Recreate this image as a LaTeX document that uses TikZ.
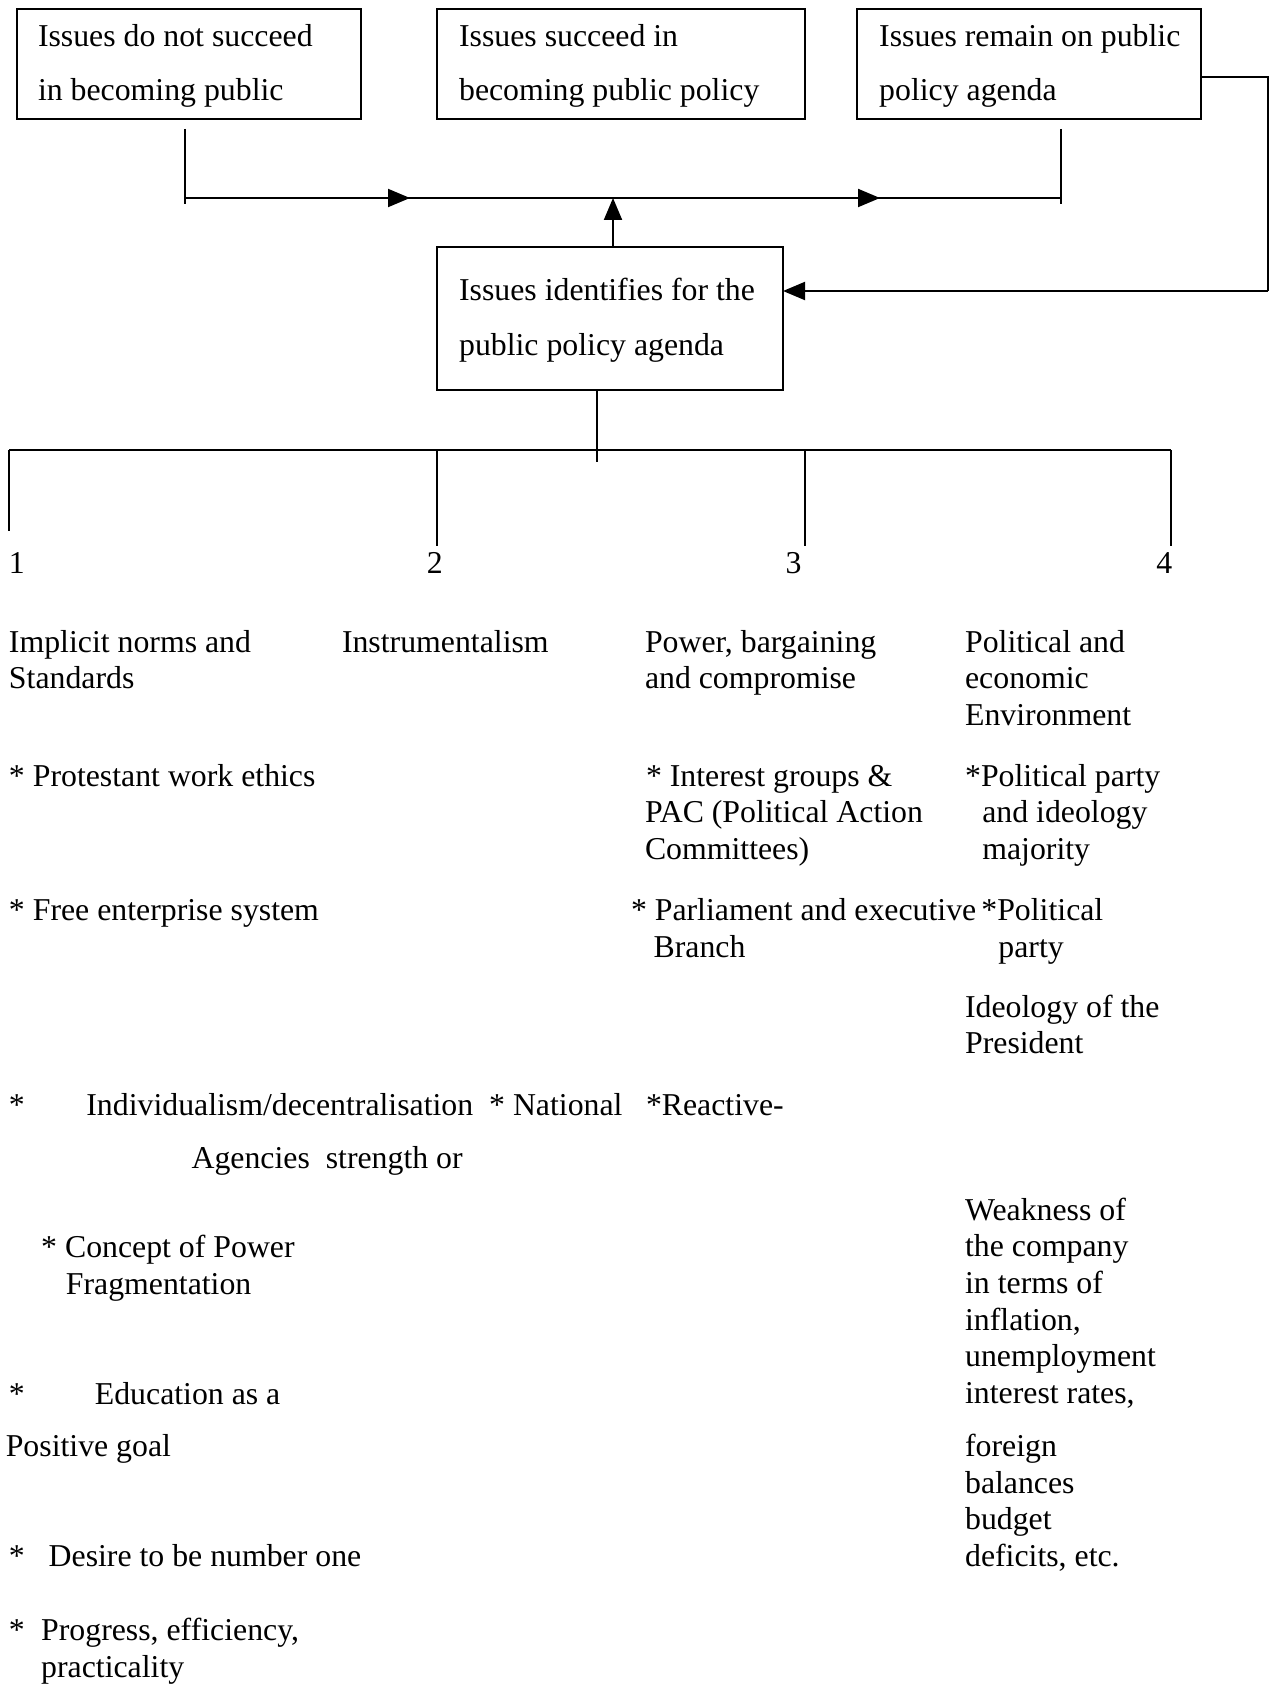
\documentclass[tikz,border=0pt]{standalone}
\usepackage{fontspec}
\setmainfont{Liberation Serif}
\usetikzlibrary{arrows.meta}
\newcommand\fsz{\fontsize{15.9pt}{18.3pt}\selectfont}
\begin{document}
\begin{tikzpicture}[x=0.5pt,y=-0.5pt,
  ln/.style={line width=1pt},
  arr/.style={line width=1pt,-{Triangle[length=11pt,width=9pt]}},
  box/.style={draw,line width=1pt,anchor=north west,inner sep=0pt,outer sep=0pt},
  txt/.style={anchor=base west,inner sep=0pt,font=\fsz}]
\useasboundingbox (0,0) rectangle (1272,1685);
\fill[white] (0,0) rectangle (1272,1685);

% boxes
\node[box,minimum width=172pt,minimum height=55pt] (b1) at (17,9) {};
\node[box,minimum width=184pt,minimum height=55pt] (b2) at (437,9) {};
\node[box,minimum width=172pt,minimum height=55pt] (b3) at (857,9) {};
\node[box,minimum width=173pt,minimum height=71.5pt] (b4) at (437,247) {};

% box texts
\node[txt] (b1a) at (37.6,46.2) {Issues do not succeed};
\node[txt] (b1b) at (37.6,101) {in becoming public};
\node[txt] (b2a) at (458.7,46.2) {Issues succeed in};
\node[txt] (b2b) at (458.7,101) {becoming public policy};
\node[txt] (b3a) at (878.8,46.2) {Issues remain on public};
\node[txt] (b3b) at (878.8,101) {policy agenda};
\node[txt] (b4a) at (458.7,300.8) {Issues identifies for the};
\node[txt] (b4b) at (458.7,355.6) {public policy agenda};

% top connectors
\coordinate (jl) at (185,198);
\coordinate (jr) at (1061,198);
\coordinate (jm) at (613,198);
\coordinate (a1) at (410,198);
\coordinate (a2) at (880,198);
\coordinate (jlb) at (185,204);
\coordinate (jrb) at (1061,204);
\draw[ln] ([yshift=-5pt]b1.south -| jl) -- (jlb);
\draw[ln] ([yshift=-5pt]b3.south -| jr) -- (jrb);
\draw[ln] (jl) -- (jr);
\draw[arr] (jl) -- (a1);
\draw[arr] (jm) -- (a2);
\draw[arr] (b4.north -| jm) -- (jm);

% feedback loop
\coordinate (fb1) at (1268,77);
\coordinate (fb2) at (1268,291);
\draw[ln] (b3.east |- fb1) -- (fb1) -- (fb2);
\draw[arr] (fb2) -- (b4.east |- fb2);

% bottom tree
\coordinate (hb) at (597,450);
\coordinate (hbb) at (597,462);
\coordinate (hl) at (9,450);
\coordinate (hr) at (1171,450);
\coordinate (h2) at (437,450);
\coordinate (h3) at (805,450);
\coordinate (d1) at (9,531);
\coordinate (d2) at (437,546);
\coordinate (d3) at (805,546);
\coordinate (d4) at (1171,546);
\draw[ln] (b4.south -| hb) -- (hbb);
\draw[ln] (hl) -- (hr);
\draw[ln] (hl) -- (d1);
\draw[ln] (h2) -- (d2);
\draw[ln] (h3) -- (d3);
\draw[ln] (hr) -- (d4);

% numbers
\node[txt] (n1) at (8.6,573.7) {1};
\node[txt] (n2) at (426.5,573.7) {2};
\node[txt] (n3) at (785.3,573.7) {3};
\node[txt] (n4) at (1156,573.7) {4};

% column 1
\node[txt] (c1a) at (8.6,652.1) {Implicit norms and};
\node[txt] (c1b) at (8.6,688.6) {Standards};
\node[txt] (c1c) at (8.6,786.4) {* Protestant work ethics};
\node[txt] (c1d) at (8.6,920.7) {* Free enterprise system};
\node[txt] (c1e) at (8.6,1115.1) {*};
\node[txt] (c1f) at (86,1115.1) {Individualism/decentralisation\ \ * National};
\node[txt] (c1g) at (191.2,1168.8) {Agencies\ \ strength or};
\node[txt] (c1h) at (40.8,1257.9) {* Concept of Power};
\node[txt] (c1i) at (65.5,1294.5) {Fragmentation};
\node[txt] (c1j) at (8.6,1404.1) {*};
\node[txt] (c1k) at (94.5,1404.1) {Education as a};
\node[txt] (c1l) at (5.4,1456.7) {Positive goal};
\node[txt] (c1m) at (8.6,1566.3) {*};
\node[txt] (c1n) at (48.3,1566.3) {Desire to be number one};
\node[txt] (c1o) at (8.6,1640.5) {*};
\node[txt] (c1p) at (40.8,1640.5) {Progress, efficiency,};
\node[txt] (c1q) at (40.8,1677) {practicality};

% column 2
\node[txt] (c2a) at (341.6,652.1) {Instrumentalism};

% column 3
\node[txt] (c3a) at (644.6,652.1) {Power, bargaining};
\node[txt] (c3b) at (644.6,688.6) {and compromise};
\node[txt] (c3c) at (645.6,786.4) {* Interest groups \&};
\node[txt] (c3d) at (644.6,822.9) {PAC (Political Action};
\node[txt] (c3e) at (644.6,859.4) {Committees)};
\node[txt] (c3f) at (630.6,920.7) {* Parliament and executive};
\node[txt] (c3g) at (653.2,957.2) {Branch};
\node[txt] (c3h) at (645.6,1115.1) {*Reactive-};

% column 4
\node[txt] (c4a) at (964.7,652.1) {Political and};
\node[txt] (c4b) at (964.7,688.6) {economic};
\node[txt] (c4c) at (964.7,725.2) {Environment};
\node[txt] (c4d) at (964.7,786.4) {*Political party};
\node[txt] (c4e) at (981.9,822.9) {and ideology};
\node[txt] (c4f) at (981.9,859.4) {majority};
\node[txt] (c4g) at (981,920.7) {*Political};
\node[txt] (c4h) at (998,957.2) {party};
\node[txt] (c4i) at (964.7,1017.4) {Ideology of the};
\node[txt] (c4j) at (964.7,1053.9) {President};
\node[txt] (c4k) at (964.7,1220.4) {Weakness of};
\node[txt] (c4l) at (964.7,1256.9) {the company};
\node[txt] (c4m) at (964.7,1293.5) {in terms of};
\node[txt] (c4n) at (964.7,1330) {inflation,};
\node[txt] (c4o) at (964.7,1366.5) {unemployment};
\node[txt] (c4p) at (964.7,1403) {interest rates,};
\node[txt] (c4q) at (964.7,1456.7) {foreign};
\node[txt] (c4r) at (964.7,1493.3) {balances};
\node[txt] (c4s) at (964.7,1529.8) {budget};
\node[txt] (c4t) at (964.7,1566.3) {deficits, etc.};
\end{tikzpicture}
\end{document}
